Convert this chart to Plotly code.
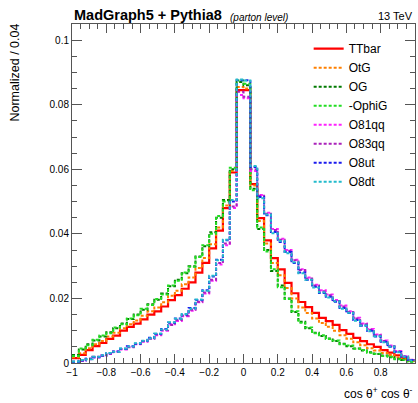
import numpy as np
import plotly.graph_objects as go

# 50 bins from -1 to 1 (width 0.04)
bin_edges = np.round(np.linspace(-1, 1, 51), 4)

ttbar = [0.0015,0.0025,0.0040,0.0052,0.0062,0.0075,0.0085,0.0100,0.0112,0.0122,0.0135,0.0150,0.0160,0.0175,0.0195,0.0210,0.0230,0.0250,0.0280,0.0310,0.0355,0.0410,0.0480,0.0590,0.0845,
         0.0845,0.0554,0.0449,0.0380,0.0325,0.0290,0.0248,0.0216,0.0189,0.0173,0.0155,0.0140,0.0130,0.0118,0.0102,0.0090,0.0078,0.0068,0.0058,0.0050,0.0040,0.0032,0.0024,0.0016,0.0008]
otg = [0.0018,0.0030,0.0046,0.0058,0.0068,0.0082,0.0094,0.0108,0.0120,0.0132,0.0146,0.0160,0.0172,0.0188,0.0208,0.0224,0.0244,0.0265,0.0294,0.0325,0.0368,0.0420,0.0488,0.0595,0.0855,
       0.0850,0.0550,0.0440,0.0370,0.0310,0.0272,0.0232,0.0200,0.0172,0.0155,0.0138,0.0124,0.0112,0.0100,0.0086,0.0075,0.0064,0.0055,0.0046,0.0039,0.0031,0.0025,0.0018,0.0012,0.0006]
og = [0.0025,0.0042,0.0058,0.0070,0.0082,0.0095,0.0108,0.0122,0.0136,0.0150,0.0165,0.0182,0.0196,0.0215,0.0238,0.0258,0.0278,0.0300,0.0330,0.0362,0.0405,0.0450,0.0505,0.0600,0.0870,
      0.0860,0.0540,0.0415,0.0350,0.0285,0.0240,0.0200,0.0158,0.0128,0.0108,0.0094,0.0084,0.0076,0.0068,0.0060,0.0052,0.0045,0.0039,0.0033,0.0028,0.0023,0.0018,0.0013,0.0009,0.0005]
ophig = [0.0022,0.0045,0.0055,0.0072,0.0085,0.0092,0.0110,0.0120,0.0138,0.0148,0.0168,0.0180,0.0198,0.0212,0.0240,0.0255,0.0280,0.0298,0.0328,0.0365,0.0400,0.0455,0.0500,0.0605,0.0875,
         0.0865,0.0535,0.0420,0.0345,0.0290,0.0235,0.0198,0.0160,0.0125,0.0110,0.0092,0.0086,0.0074,0.0070,0.0058,0.0054,0.0044,0.0040,0.0032,0.0029,0.0022,0.0019,0.0012,0.0010,0.0004]
o81qq = [0.0003,0.0008,0.0012,0.0017,0.0024,0.0028,0.0036,0.0042,0.0050,0.0058,0.0066,0.0076,0.0086,0.0100,0.0120,0.0130,0.0145,0.0162,0.0188,0.0215,0.0255,0.0305,0.0365,0.0480,0.0830,
         0.0820,0.0595,0.0520,0.0465,0.0415,0.0385,0.0350,0.0320,0.0290,0.0265,0.0242,0.0225,0.0212,0.0195,0.0178,0.0160,0.0140,0.0122,0.0105,0.0088,0.0070,0.0054,0.0037,0.0021,0.0010]
o83qq = [0.0004,0.0007,0.0013,0.0019,0.0022,0.0029,0.0035,0.0043,0.0049,0.0059,0.0067,0.0075,0.0088,0.0102,0.0118,0.0133,0.0147,0.0165,0.0190,0.0218,0.0258,0.0310,0.0370,0.0485,0.0840,
         0.0825,0.0600,0.0518,0.0462,0.0412,0.0382,0.0348,0.0318,0.0288,0.0262,0.0240,0.0222,0.0210,0.0192,0.0175,0.0158,0.0138,0.0120,0.0103,0.0086,0.0068,0.0052,0.0036,0.0020,0.0009]
o8ut = [0.0004,0.0008,0.0013,0.0018,0.0023,0.0030,0.0036,0.0044,0.0052,0.0060,0.0068,0.0078,0.0090,0.0105,0.0125,0.0138,0.0150,0.0170,0.0195,0.0225,0.0268,0.0320,0.0380,0.0500,0.0876,
        0.0876,0.0607,0.0514,0.0458,0.0406,0.0375,0.0344,0.0310,0.0280,0.0257,0.0236,0.0217,0.0205,0.0190,0.0170,0.0155,0.0133,0.0115,0.0100,0.0082,0.0066,0.0050,0.0034,0.0019,0.0009]
o8dt = [0.0005,0.0009,0.0012,0.0019,0.0024,0.0031,0.0035,0.0045,0.0051,0.0061,0.0069,0.0077,0.0091,0.0104,0.0126,0.0137,0.0152,0.0168,0.0197,0.0224,0.0270,0.0318,0.0382,0.0505,0.0878,
        0.0875,0.0610,0.0510,0.0460,0.0402,0.0378,0.0340,0.0312,0.0278,0.0258,0.0234,0.0219,0.0203,0.0191,0.0168,0.0156,0.0131,0.0116,0.0098,0.0083,0.0064,0.0051,0.0033,0.0019,0.0008]

series_names = ["TTbar", "OtG", "OG", "-OphiG", "O81qq", "O83qq", "O8ut", "O8dt"]
series_values = [ttbar, otg, og, ophig, o81qq, o83qq, o8ut, o8dt]
series_colors = ["#ff0000", "#ff8000", "#007a00", "#22dd22", "#ff22ff", "#aa22bb", "#1a1aee", "#22bbcc"]

x_tickvals = [-1, -0.8, -0.6, -0.4, -0.2, 0, 0.2, 0.4, 0.6, 0.8, 1]
x_ticktext = ["\u22121", "\u22120.8", "\u22120.6", "\u22120.4", "\u22120.2", "0", "0.2", "0.4", "0.6", "0.8", "1"]
y_tickvals = [0, 0.02, 0.04, 0.06, 0.08, 0.1]
y_ticktext = ["0", "0.02", "0.04", "0.06", "0.08", "0.1"]

FONT = "Liberation Sans, Arial, sans-serif"

fig = go.Figure()
for name, vals, col in zip(series_names, series_values, series_colors):
    xs = list(bin_edges)
    ys = list(vals) + [vals[-1]]
    if name == "TTbar":
        line = dict(color=col, width=2.2, shape="hv")
    else:
        line = dict(color=col, width=2, shape="hv", dash="3px,2px")
    fig.add_trace(go.Scatter(x=xs, y=ys, mode="lines", name=name, line=line))

axis_common = dict(showline=True, linecolor="#555", linewidth=1, mirror="allticks",
                   ticks="inside", tickcolor="#555", showgrid=False, zeroline=False,
                   tickfont=dict(family=FONT, size=10, color="black"))

fig.update_xaxes(range=[-1, 1], tickvals=x_tickvals, ticktext=x_ticktext, ticklen=9,
                 minor=dict(dtick=0.05, ticklen=5, ticks="inside", tickcolor="#555", showgrid=False),
                 **axis_common)
fig.update_yaxes(range=[0, 0.105], tickvals=y_tickvals, ticktext=y_ticktext, ticklen=10,
                 minor=dict(dtick=0.005, ticklen=5, ticks="inside", tickcolor="#555", showgrid=False),
                 **axis_common)

fig.update_layout(
    width=418, height=403,
    margin=dict(l=72, r=3, t=24, b=40),
    plot_bgcolor="white", paper_bgcolor="white",
    font=dict(family=FONT, color="black"),
    showlegend=True,
    legend=dict(x=0.69, y=0.970, xanchor="left", yanchor="top", bgcolor="rgba(0,0,0,0)",
                font=dict(family=FONT, size=12), tracegroupgap=0, itemwidth=30),
    annotations=[
        dict(text="<b>MadGraph5 + Pythia8</b>", x=0, y=1, xref="paper", yref="paper",
             xanchor="left", yanchor="bottom", yshift=-1, showarrow=False,
             font=dict(family=FONT, size=14.5)),
        dict(text="<i>(parton level)</i>", x=0.455, y=1, xref="paper", yref="paper",
             xanchor="left", yanchor="bottom", yshift=-1, showarrow=False,
             font=dict(family=FONT, size=10)),
        dict(text="13 TeV", x=1, y=1, xref="paper", yref="paper",
             xanchor="right", yanchor="bottom", yshift=0, showarrow=False,
             font=dict(family=FONT, size=11)),
        dict(text="cos \u03b8<sup>+</sup> cos \u03b8<sup>-</sup>", x=1, y=-0.06, xref="paper", yref="paper",
             xanchor="right", yanchor="top", showarrow=False,
             font=dict(family=FONT, size=12)),
        dict(text="Normalized / 0.04", x=-0.166, y=0.857, xref="paper", yref="paper",
             xanchor="center", yanchor="middle", textangle=-90, showarrow=False,
             font=dict(family=FONT, size=12.5)),
    ],
)

# remove the default 8px page margin so the 418x403 figure fills the window exactly
fig.write_html("out.html", config={"displayModeBar": False},
               post_script="document.body.style.margin='0';document.body.style.overflow='hidden';")
